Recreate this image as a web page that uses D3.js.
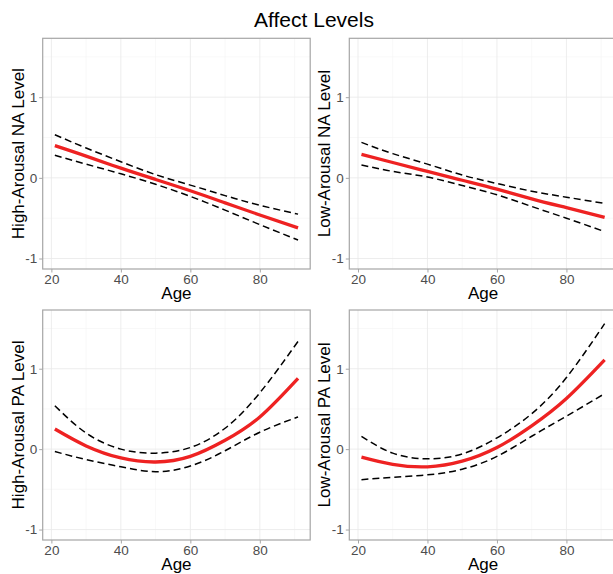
<!DOCTYPE html>
<html><head><meta charset="utf-8">
<script src="https://cdn.jsdelivr.net/npm/d3@7"></script>
<style>body{margin:0;background:#fff}svg{display:block}</style>
</head><body>
<script>
const title = "Affect Levels";
const ages = [21, 30, 40, 50, 60, 70, 80, 91];
const panelLabels = ["High-Arousal NA Level", "Low-Arousal NA Level", "High-Arousal PA Level", "Low-Arousal PA Level"];
const haNaFit   = [0.40, 0.27, 0.12, -0.02, -0.16, -0.31, -0.46, -0.62];
const haNaUpper = [0.535, 0.37, 0.20, 0.04, -0.09, -0.22, -0.34, -0.45];
const haNaLower = [0.28, 0.17, 0.05, -0.08, -0.23, -0.40, -0.58, -0.77];
const laNaFit   = [0.29, 0.19, 0.08, -0.03, -0.14, -0.26, -0.37, -0.49];
const laNaUpper = [0.44, 0.30, 0.17, 0.035, -0.07, -0.165, -0.24, -0.317];
const laNaLower = [0.16, 0.08, 0.01, -0.095, -0.21, -0.355, -0.50, -0.667];
const haPaFit   = [0.25, 0.04, -0.11, -0.16, -0.09, 0.11, 0.40, 0.88];
const haPaUpper = [0.54, 0.20, 0.0, -0.05, 0.02, 0.26, 0.70, 1.34];
const haPaLower = [-0.03, -0.13, -0.22, -0.28, -0.21, -0.02, 0.21, 0.40];
const laPaFit   = [-0.10, -0.19, -0.22, -0.15, 0.02, 0.29, 0.63, 1.11];
const laPaUpper = [0.16, -0.05, -0.12, -0.06, 0.14, 0.44, 0.89, 1.56];
const laPaLower = [-0.38, -0.35, -0.32, -0.25, -0.09, 0.16, 0.41, 0.69];
const xTicks = [20, 40, 60, 80];
const xMinor = [30, 50, 70, 90];
const yTicks = [-1, 0, 1];
const yMinor = [-0.5, 0.5, 1.5];
const xLabel = "Age";

const W = 613, H = 574;
const FONT = "Arial, 'Liberation Sans', sans-serif";
const svg = d3.select("body").append("svg").attr("width", W).attr("height", H)
  .style("font-family", FONT);

svg.append("text").attr("x", 314).attr("y", 27).attr("text-anchor", "middle")
  .attr("font-size", 21).attr("fill", "#000").text(title);

const panels = [
  {x0: 42.7, x1: 310.2, y0: 38.3, y1: 269, fit: haNaFit, up: haNaUpper, lo: haNaLower, label: panelLabels[0]},
  {x0: 349.3, x1: 616.8, y0: 38.3, y1: 269, fit: laNaFit, up: laNaUpper, lo: laNaLower, label: panelLabels[1]},
  {x0: 42.7, x1: 310.2, y0: 310, y1: 540, fit: haPaFit, up: haPaUpper, lo: haPaLower, label: panelLabels[2]},
  {x0: 349.3, x1: 616.8, y0: 310, y1: 540, fit: laPaFit, up: laPaUpper, lo: laPaLower, label: panelLabels[3]}
];

panels.forEach((p, i) => {
  const x = d3.scaleLinear().domain([17.5, 94.5]).range([p.x0, p.x1]);
  const y = d3.scaleLinear().domain([-1.13, 1.73]).range([p.y1, p.y0]);
  const g = svg.append("g");
  const clipId = "clip" + i;
  svg.append("clipPath").attr("id", clipId).append("rect")
    .attr("x", p.x0).attr("y", p.y0).attr("width", p.x1 - p.x0).attr("height", p.y1 - p.y0);
  const inner = g.append("g").attr("clip-path", `url(#${clipId})`);
  inner.selectAll(".vmin").data(xMinor).join("line")
    .attr("x1", d => x(d)).attr("x2", d => x(d)).attr("y1", p.y0).attr("y2", p.y1)
    .attr("stroke", "#f3f3f3").attr("stroke-width", 0.6);
  inner.selectAll(".hmin").data(yMinor).join("line")
    .attr("y1", d => y(d)).attr("y2", d => y(d)).attr("x1", p.x0).attr("x2", p.x1)
    .attr("stroke", "#f3f3f3").attr("stroke-width", 0.6);
  inner.selectAll(".vmaj").data(xTicks).join("line")
    .attr("x1", d => x(d)).attr("x2", d => x(d)).attr("y1", p.y0).attr("y2", p.y1)
    .attr("stroke", "#e8e8e8").attr("stroke-width", 0.8);
  inner.selectAll(".hmaj").data(yTicks).join("line")
    .attr("y1", d => y(d)).attr("y2", d => y(d)).attr("x1", p.x0).attr("x2", p.x1)
    .attr("stroke", "#e8e8e8").attr("stroke-width", 0.8);

  const line = vals => d3.line().x((d, j) => x(ages[j])).y(d => y(d)).curve(d3.curveNatural)(vals);
  [p.up, p.lo].forEach(v => {
    inner.append("path").attr("d", line(v)).attr("fill", "none")
      .attr("stroke", "#000").attr("stroke-width", 1.5).attr("stroke-dasharray", "7,4");
  });
  inner.append("path").attr("d", line(p.fit)).attr("fill", "none")
    .attr("stroke", "#ee2222").attr("stroke-width", 3.3).attr("stroke-linecap", "butt");

  g.append("rect").attr("x", p.x0).attr("y", p.y0).attr("width", p.x1 - p.x0).attr("height", p.y1 - p.y0)
    .attr("fill", "none").attr("stroke", "#a6a6a6").attr("stroke-width", 1.2);

  const xa = g.append("g").attr("transform", `translate(0,${p.y1})`)
    .call(d3.axisBottom(x).tickValues(xTicks).tickSize(3.5).tickPadding(1.5).tickFormat(d3.format("d")));
  const ya = g.append("g").attr("transform", `translate(${p.x0},0)`)
    .call(d3.axisLeft(y).tickValues(yTicks).tickSize(3.5).tickPadding(2).tickFormat(d => d === -1 ? "-1" : String(d)));
  [xa, ya].forEach(a => {
    a.select(".domain").remove();
    a.selectAll("line").attr("stroke", "#a6a6a6").attr("stroke-width", 1);
    a.selectAll("text").attr("fill", "#4d4d4d").attr("font-size", 13.5).style("font-family", FONT);
  });

  g.append("text").attr("x", (p.x0 + p.x1) / 2).attr("y", p.y1 + 30).attr("text-anchor", "middle")
    .attr("font-size", 17).attr("fill", "#000").text(xLabel);
  const ty = (p.y0 + p.y1) / 2, tx = p.x0 - 19;
  g.append("text").attr("transform", `translate(${tx},${ty}) rotate(-90)`).attr("text-anchor", "middle")
    .attr("font-size", 17).attr("fill", "#000").text(p.label);
});
</script>
</body></html>
